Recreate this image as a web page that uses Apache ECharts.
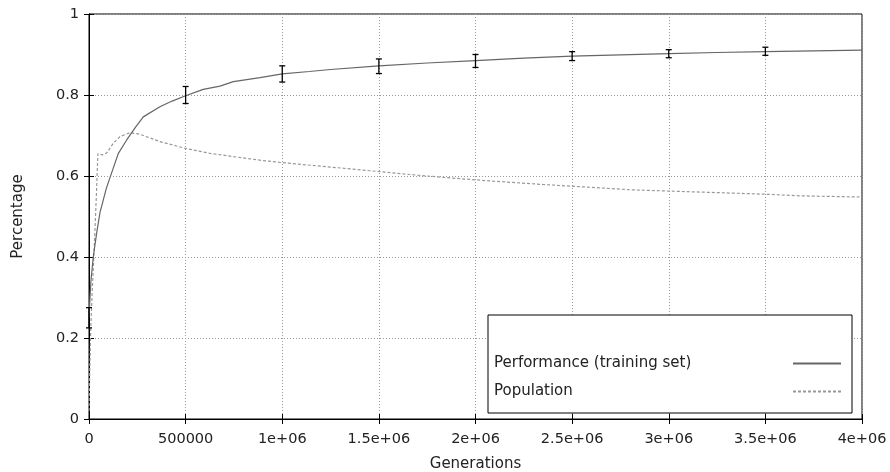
<!DOCTYPE html>
<html><head><meta charset="utf-8">
<script src="https://cdn.jsdelivr.net/npm/echarts@6/dist/echarts.min.js"></script>
<style>html,body{margin:0;padding:0;background:#fff}#c{width:890px;height:472px}</style>
</head><body><div id="c"></div>
<script>
// Performance (training set)
const perfGen = [0,5000,10000,22000,40000,57000,90000,126000,152000,195000,240000,281000,367000,430000,500000,591000,678000,747000,885000,1000000,1140000,1250000,1500000,1750000,2000000,2250000,2500000,2750000,3000000,3250000,3500000,3750000,4000000];
const perfVal = [0.25,0.30,0.34,0.40,0.46,0.51,0.57,0.62,0.656,0.689,0.72,0.746,0.771,0.785,0.798,0.814,0.822,0.833,0.843,0.852,0.858,0.863,0.872,0.879,0.885,0.891,0.896,0.899,0.902,0.905,0.907,0.909,0.911];
// Population
const popGen = [0,4000,9000,16000,25000,38000,46000,70000,92000,126000,160000,212000,264000,367000,500000,626000,745000,885000,1000000,1250000,1454000,1700000,1903000,2100000,2350000,2600000,2800000,3050000,3250000,3500000,3680000,4000000];
const popVal = [0.02,0.12,0.22,0.31,0.40,0.55,0.655,0.652,0.657,0.681,0.697,0.707,0.703,0.685,0.668,0.656,0.648,0.639,0.633,0.622,0.613,0.602,0.594,0.587,0.579,0.572,0.566,0.562,0.559,0.555,0.551,0.548];
// Error bars on performance
const errGen = [0,500000,1000000,1500000,2000000,2500000,3000000,3500000];
const errMid = [0.25,0.80,0.852,0.871,0.884,0.896,0.902,0.908];
const errHalf = [0.025,0.021,0.02,0.018,0.016,0.011,0.01,0.01];
const xTicks = ['0','500000','1e+06','1.5e+06','2e+06','2.5e+06','3e+06','3.5e+06','4e+06'];
const yTicks = ['0','0.2','0.4','0.6','0.8','1'];

const font = 'DejaVu Sans';
const chart = echarts.init(document.getElementById('c'), null, {renderer:'canvas'});
const perfData = perfGen.map((g,i)=>[g,perfVal[i]]);
const popData = popGen.map((g,i)=>[g,popVal[i]]);
const errData = errGen.map((g,i)=>[g,errMid[i]-errHalf[i],errMid[i]+errHalf[i]]);

const tickCommon = {show:true, inside:true, length:5, lineStyle:{color:'#000',width:1}};
chart.setOption({
  animation:false,
  backgroundColor:'#fff',
  textStyle:{fontFamily:font},
  grid:{left:89,right:28,top:14,bottom:53,show:true,borderColor:'#000',borderWidth:1,
    containLabel:false,outerBoundsMode:'none'},
  xAxis:[{
    type:'value',min:0,max:4000000,interval:500000,
    name:'Generations',nameLocation:'middle',nameGap:38,
    nameTextStyle:{fontFamily:font,fontSize:15,color:'#222'},
    axisLine:{show:true,lineStyle:{color:'#000'}},
    axisTick:tickCommon,
    axisLabel:{fontFamily:font,fontSize:14.5,color:'#222',margin:13,
      formatter:(v)=>xTicks[Math.round(v/500000)]},
    splitLine:{show:true,lineStyle:{color:'#999',type:[1,2],width:1}}
  },{
    type:'value',min:0,max:4000000,interval:500000,position:'top',
    axisLine:{show:true,lineStyle:{color:'#000'}},axisTick:tickCommon,axisLabel:{show:false},splitLine:{show:false}
  }],
  yAxis:[{
    type:'value',min:0,max:1,interval:0.2,
    name:'Percentage',nameLocation:'middle',nameGap:63,nameRotate:90,
    nameTextStyle:{fontFamily:font,fontSize:15,color:'#222'},
    axisLine:{show:true,lineStyle:{color:'#000'}},
    axisTick:tickCommon,
    axisLabel:{fontFamily:font,fontSize:14.5,color:'#222',margin:10,
      formatter:(v)=>yTicks[Math.round(v/0.2)]},
    splitLine:{show:true,lineStyle:{color:'#999',type:[1,2],width:1}}
  },{
    type:'value',min:0,max:1,interval:0.2,position:'right',
    axisLine:{show:true,lineStyle:{color:'#000'}},axisTick:tickCommon,axisLabel:{show:false},splitLine:{show:false}
  }],
  legend:{
    orient:'vertical',left:488,top:315,
    align:'right',
    padding:[41,10,14,6],
    itemWidth:48,itemHeight:14,itemGap:13,
    backgroundColor:'#fff',
    borderColor:'#000',borderWidth:1,
    itemStyle:{opacity:0},
    formatter:(name)=>'{t|'+name+'}',
    textStyle:{fontFamily:font,fontSize:15,color:'#222',
      rich:{t:{fontFamily:font,fontSize:15,color:'#222',width:294,align:'left'}}},
    data:['Performance (training set)','Population']
  },
  series:[
    {name:'Performance (training set)',type:'line',data:perfData,showSymbol:false,symbol:'none',
      lineStyle:{color:'#666',width:1.2},itemStyle:{color:'#666'},z:3},
    {name:'Population',type:'line',data:popData,showSymbol:false,symbol:'none',
      lineStyle:{color:'#999',width:1.2,type:[3,2]},itemStyle:{color:'#999'},z:2},
    {name:'err',type:'custom',data:errData,z:4,
      renderItem:(params,api)=>{
        const x=api.value(0);
        const lo=api.coord([x,api.value(1)]);
        const hi=api.coord([x,api.value(2)]);
        const w=3;
        const st={stroke:'#000',lineWidth:1.3};
        return {type:'group',children:[
          {type:'line',shape:{x1:lo[0],y1:lo[1],x2:hi[0],y2:hi[1]},style:st},
          {type:'line',shape:{x1:lo[0]-w,y1:lo[1],x2:lo[0]+w,y2:lo[1]},style:st},
          {type:'line',shape:{x1:hi[0]-w,y1:hi[1],x2:hi[0]+w,y2:hi[1]},style:st}
        ]};
      },
      encode:{x:0,y:[1,2]}
    }
  ]
});
</script></body></html>
